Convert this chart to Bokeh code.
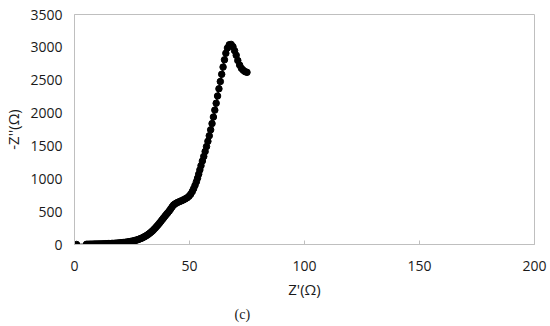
from bokeh.plotting import figure
from bokeh.models import Range1d, Title, FixedTicker
from bokeh.embed import file_html
from bokeh.resources import INLINE

z_real = [0.9, 5.2, 5.8, 6.4, 7.0, 7.6, 8.2, 8.8, 9.4, 10.0, 10.6, 11.2, 11.8, 12.4, 13.0,
          13.6, 14.2, 14.8, 15.4, 16.0, 16.6, 17.2, 17.8, 18.4, 19.0, 19.6, 20.2, 20.8,
          21.4, 22.0, 22.6, 23.2, 23.8, 24.4, 25.0, 25.6, 26.2, 26.8, 27.4, 28.0, 28.6,
          29.2, 29.8, 30.4, 31.0, 31.6, 32.2, 32.8, 33.4, 34.0, 34.6, 35.2, 35.8, 36.4,
          37.0, 37.6, 38.2, 38.8, 39.4, 40.0, 40.6, 41.2, 41.8, 42.4, 43.0, 43.6, 44.3,
          45.0, 45.8, 46.6, 47.4, 48.2, 49.0, 49.8, 50.5, 51.2, 51.8, 52.4, 53.0, 53.5,
          54.0, 54.5, 55.0, 55.6, 56.2, 56.8, 57.4, 58.0, 58.6, 59.2, 59.8, 60.4, 61.0,
          61.6, 62.2, 62.8, 63.4, 64.0, 64.6, 65.2, 65.8, 66.5, 67.3, 68.1, 68.9, 69.6,
          70.3, 71.0, 71.8, 72.6, 73.4, 74.2, 75.0]
z_imag = [0, 3, 3, 4, 4, 5, 5, 6, 6, 7, 7, 8, 9, 9, 10,
          11, 12, 13, 14, 15, 16, 17, 19, 20, 22, 24, 26, 28,
          30, 33, 36, 39, 42, 46, 50, 55, 60, 66, 72, 80, 88,
          97, 107, 118, 130, 143, 158, 174, 192, 211, 232, 254, 278, 302,
          328, 354, 381, 408, 434, 460, 485, 510, 540, 570, 598, 615, 630,
          643, 655, 667, 680, 695, 712, 735, 765, 805, 850, 900, 955, 1010,
          1070, 1135, 1200, 1270, 1340, 1415, 1490, 1570, 1655, 1745, 1840, 1940, 2045,
          2150, 2260, 2370, 2480, 2590, 2700, 2810, 2910, 2990, 3040, 3045, 3010, 2950,
          2880, 2800, 2730, 2680, 2650, 2630, 2620]

x_ticks = [0, 50, 100, 150, 200]
y_ticks = [0, 500, 1000, 1500, 2000, 2500, 3000, 3500]

p = figure(width=548, height=324, output_backend="svg", toolbar_location=None,
           x_range=Range1d(0, 200), y_range=Range1d(0, 3500))
p.min_border_left = 74
p.min_border_right = 14
p.min_border_top = 14
p.min_border_bottom = 80
p.background_fill_color = "white"
p.border_fill_color = "white"
p.outline_line_color = "#bfbfbf"
p.outline_line_width = 1
p.xgrid.visible = False
p.ygrid.visible = False

font = "Open Sans"
p.xaxis.ticker = FixedTicker(ticks=x_ticks)
p.yaxis.ticker = FixedTicker(ticks=y_ticks)
for ax in (p.xaxis, p.yaxis):
    ax.axis_line_color = "#bfbfbf"
    ax.minor_tick_line_color = None
    ax.major_label_text_font = font
    ax.major_label_text_font_size = "14px"
    ax.major_label_text_color = "#1a1a1a"
    ax.axis_label_text_font = font
    ax.axis_label_text_font_size = "15px"
    ax.axis_label_text_font_style = "normal"
    ax.axis_label_text_color = "#1a1a1a"
p.xaxis.major_tick_line_color = "#bfbfbf"
p.xaxis.major_tick_in = 4
p.xaxis.major_tick_out = 0
p.yaxis.major_tick_line_color = None
p.yaxis.major_tick_in = 0
p.yaxis.major_tick_out = 0
p.xaxis.major_label_standoff = 16
p.yaxis.major_label_standoff = 12
p.xaxis.axis_label = "Z'(Ω)"
p.yaxis.axis_label = "-Z''(Ω)"
p.xaxis.axis_label_standoff = 5
p.yaxis.axis_label_standoff = 4

p.line(z_real, z_imag, line_color="black", line_width=1.5)
p.scatter(z_real, z_imag, size=6.5, fill_color="black", line_color="black")

p.add_layout(Title(text="(c)", align="left", offset=243 - 74 - 9, standoff=6,
                   text_font="Liberation Serif", text_font_size="14px",
                   text_font_style="normal", text_color="#1a1a1a"), "below")

open("out.html", "w").write(file_html(p, INLINE))
